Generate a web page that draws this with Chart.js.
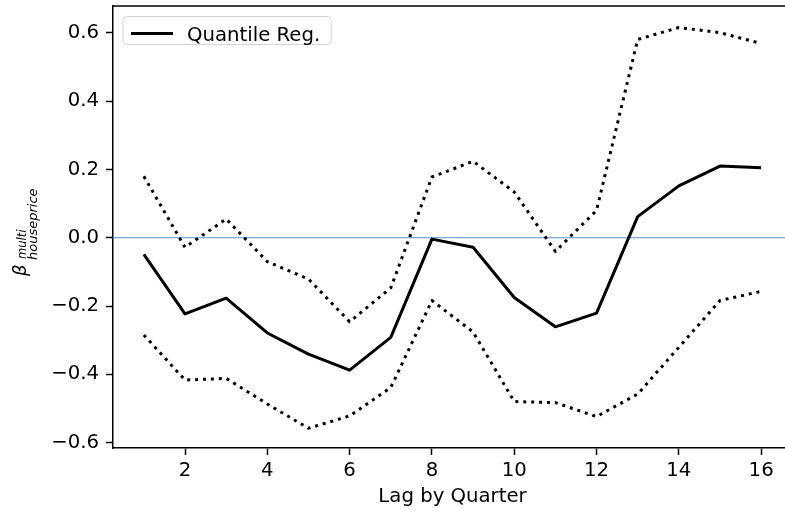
<!DOCTYPE html>
<html>
<head>
<meta charset="utf-8">
<script src="https://cdn.jsdelivr.net/npm/chart.js@4.4.1/dist/chart.umd.min.js"></script>
<style>
  html, body { margin: 0; padding: 0; background: #fff; overflow: hidden; }
  #wrap { width: 800px; height: 514px; }
</style>
</head>
<body>
<div id="wrap"><canvas id="coef-chart" width="800" height="514"></canvas></div>
<script>
// values
const lags = [1, 2, 3, 4, 5, 6, 7, 8, 9, 10, 11, 12, 13, 14, 15, 16];
const quantileReg = [-0.049, -0.223, -0.177, -0.279, -0.341, -0.388, -0.292, -0.004,
                     -0.028, -0.175, -0.261, -0.221, 0.062, 0.152, 0.210, 0.205];
const upperBand = [0.180, -0.028, 0.055, -0.070, -0.121, -0.246, -0.147, 0.178,
                   0.224, 0.134, -0.040, 0.080, 0.581, 0.616, 0.601, 0.569];
const lowerBand = [-0.285, -0.417, -0.412, -0.487, -0.558, -0.522, -0.439, -0.184,
                   -0.276, -0.480, -0.483, -0.524, -0.458, -0.321, -0.184, -0.157];
const xTicks = [2, 4, 6, 8, 10, 12, 14, 16];
const yTicks = [-0.6, -0.4, -0.2, 0.0, 0.2, 0.4, 0.6];
const xLabel = 'Lag by Quarter';
const yLabel = { base: 'β', sup: 'multi', sub: 'houseprice' };
const legendLabel = 'Quantile Reg.';

const FONT = "'DejaVu Sans', sans-serif";
const FS = 19.7;
Chart.defaults.font.family = FONT;
Chart.defaults.font.size = FS;
Chart.defaults.color = '#000';

const toPoints = (ys) => lags.map((x, i) => ({ x: x, y: ys[i] }));
const fixTicks = (list) => (scale) => { scale.ticks = list.map(v => ({ value: v })); };

const framePlugin = {
    id: 'frame',
    beforeDatasetsDraw(chart) {
        const { ctx, chartArea: a, scales: { y } } = chart;
        const y0 = y.getPixelForValue(0);
        ctx.save();
        ctx.strokeStyle = '#5a93c2';
        ctx.lineWidth = 1;
        ctx.beginPath();
        ctx.moveTo(a.left, y0);
        ctx.lineTo(a.right, y0);
        ctx.stroke();
        ctx.restore();
    },
    afterDraw(chart) {
        const { ctx, chartArea: a } = chart;
        ctx.save();
        // top spine (the right one falls outside the window)
        ctx.strokeStyle = '#000';
        ctx.lineWidth = 1.5;
        ctx.beginPath();
        ctx.moveTo(a.left, a.top);
        ctx.lineTo(a.right, a.top);
        ctx.stroke();

        // legend
        ctx.font = FS + 'px ' + FONT;
        const tw = ctx.measureText(legendLabel).width;
        const bx = a.left + 10, by = a.top + 10.5;
        const bw = 64 + tw + 11, bh = 28;
        ctx.beginPath();
        ctx.roundRect(bx, by, bw, bh, 4);
        ctx.fillStyle = 'rgba(255, 255, 255, 0.8)';
        ctx.fill();
        ctx.strokeStyle = '#d4d4d4';
        ctx.lineWidth = 1;
        ctx.stroke();
        ctx.strokeStyle = '#000';
        ctx.lineWidth = 3;
        ctx.beginPath();
        ctx.moveTo(bx + 8, by + 17);
        ctx.lineTo(bx + 50, by + 17);
        ctx.stroke();
        ctx.fillStyle = '#000';
        ctx.textBaseline = 'alphabetic';
        ctx.textAlign = 'left';
        ctx.fillText(legendLabel, bx + 64, by + 24.5);

        // y axis label with sub/superscript
        ctx.translate(26, 276);
        ctx.rotate(-Math.PI / 2);
        ctx.font = 'italic 18px ' + FONT;
        ctx.fillText(yLabel.base, 0, 0);
        ctx.font = 'italic 13px ' + FONT;
        ctx.fillText(yLabel.sub, 16, 10.5);
        ctx.font = 'italic 11.5px ' + FONT;
        ctx.fillText(yLabel.sup, 17, 0);
        ctx.restore();
    }
};

new Chart(document.getElementById('coef-chart').getContext('2d'), {
    type: 'line',
    data: {
        datasets: [{
            label: legendLabel,
            data: toPoints(quantileReg),
            borderColor: '#000',
            borderWidth: 3,
            borderJoinStyle: 'round',
            pointRadius: 0,
            tension: 0,
        }, {
            label: 'upper',
            data: toPoints(upperBand),
            borderColor: '#000',
            borderWidth: 3,
            borderDash: [3, 4.9],
            borderJoinStyle: 'round',
            pointRadius: 0,
            tension: 0,
        }, {
            label: 'lower',
            data: toPoints(lowerBand),
            borderColor: '#000',
            borderWidth: 3,
            borderDash: [3, 4.9],
            borderJoinStyle: 'round',
            pointRadius: 0,
            tension: 0,
        }],
    },
    options: {
        responsive: false,
        animation: false,
        layout: { padding: { left: 0, right: 8, top: 6, bottom: 0 } },
        plugins: {
            legend: { display: false },
            tooltip: { enabled: false },
        },
        scales: {
            x: {
                type: 'linear',
                min: 0.25,
                max: 16.75,
                afterBuildTicks: fixTicks(xTicks),
                afterFit: (scale) => { scale.height = 66; scale.paddingLeft = 0; scale.paddingRight = 0; },
                ticks: { padding: 4, maxRotation: 0, autoSkip: false, color: '#000' },
                grid: { drawOnChartArea: false, tickLength: 7, tickWidth: 1.5, tickColor: '#000' },
                border: { color: '#000', width: 1.5 },
                title: { display: true, text: xLabel, color: '#000', padding: { top: 0, bottom: 5 } },
            },
            y: {
                type: 'linear',
                min: -0.616,
                max: 0.679,
                afterBuildTicks: fixTicks(yTicks),
                afterFit: (scale) => { scale.width = 113; scale.paddingTop = 0; scale.paddingBottom = 0; },
                ticks: {
                    padding: 7,
                    color: '#000',
                    callback: (v) => v.toFixed(1).replace('-', '\u2212'),
                },
                grid: { drawOnChartArea: false, tickLength: 7, tickWidth: 1.5, tickColor: '#000' },
                border: { color: '#000', width: 1.5 },
            },
        },
    },
    plugins: [framePlugin],
});
</script>
</body>
</html>
